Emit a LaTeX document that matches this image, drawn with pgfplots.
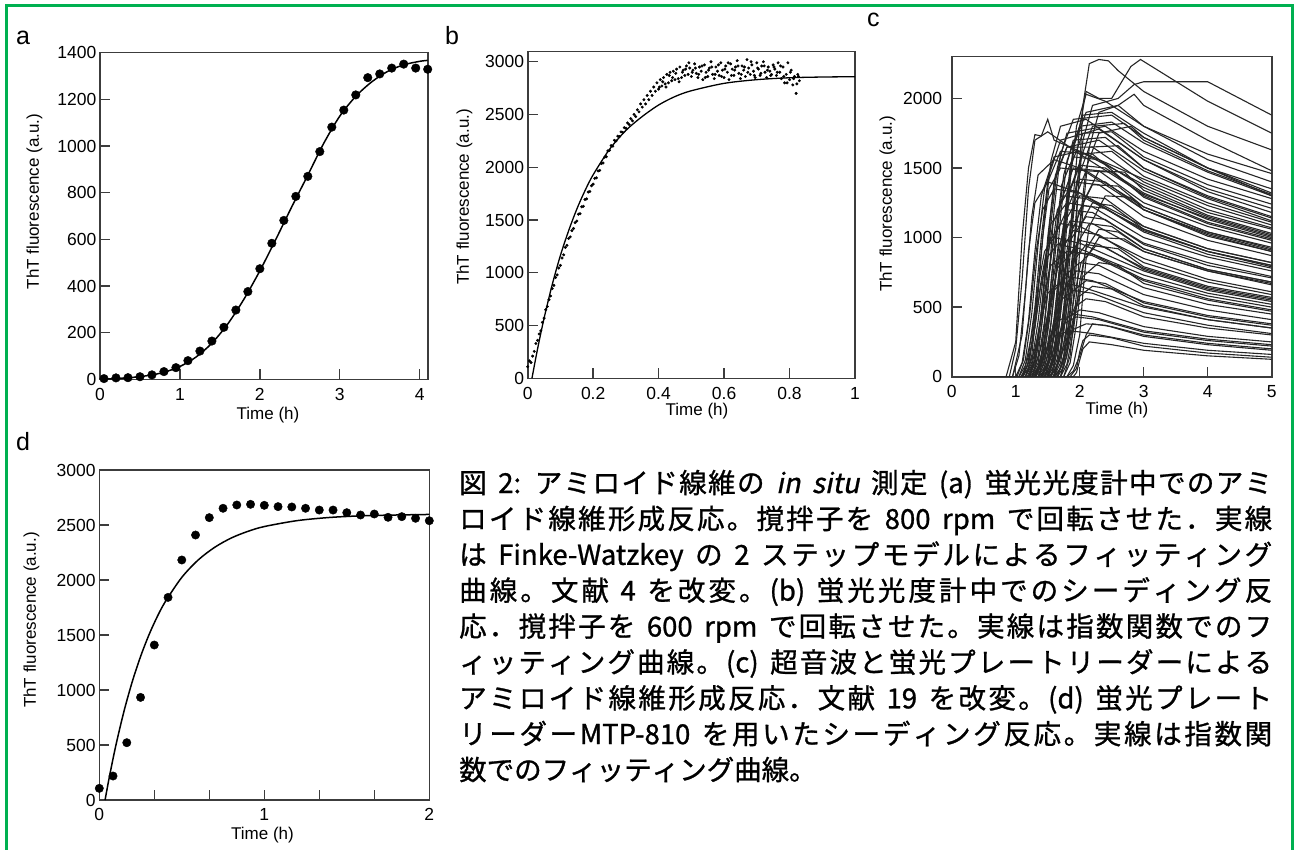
\documentclass[border=0pt]{standalone}
\usepackage{fontspec}
\setmainfont{Liberation Sans}
\newfontfamily\jp{Noto Sans CJK JP}[FakeBold=1]
\newfontfamily\jpit{Noto Sans CJK JP}[FakeBold=1,FakeSlant=0.2]
\usepackage{pgfplots}
\pgfplotsset{compat=1.18}
\definecolor{framecol}{HTML}{3C3C3C}
\definecolor{bordergreen}{RGB}{0,176,80}
\newcommand\tickfont{\fontsize{17.5}{20}\selectfont}
\newcommand\labfont{\fontsize{17}{20}\selectfont}
\newcommand\letfont{\fontsize{25}{28}\selectfont}
% justification glue between Japanese characters (caption only)
\newXeTeXintercharclass\jpcls
\newcount\jpc
\jpc="3000 \loop \XeTeXcharclass\jpc=\jpcls \ifnum\jpc<"30FF \advance\jpc 1 \repeat
\jpc="4E00 \loop \XeTeXcharclass\jpc=\jpcls \ifnum\jpc<"9FFF \advance\jpc 1 \repeat
\jpc="FF01 \loop \XeTeXcharclass\jpc=\jpcls \ifnum\jpc<"FF60 \advance\jpc 1 \repeat
\newcommand\jg{\hskip0pt plus 1fil\relax}
\XeTeXinterchartoks \jpcls \jpcls = {\jg}
\XeTeXinterchartoks 0 \jpcls = {\jg}
\XeTeXinterchartoks \jpcls 0 = {\jg}
\newcommand\capfont{\jp\fontsize{27.5}{30}\selectfont\spaceskip=0.42em\relax
  \XeTeXinterchartokenstate=1\relax}
\pgfplotsset{
  panel/.style={
    scale only axis, anchor=south west,
    axis line style={draw=framecol, line width=1.6pt},
    tick align=inside, xtick pos=bottom, ytick pos=left,
    major tick length=10pt, minor tick length=10pt,
    tick style={draw=framecol, line width=1.4pt},
    ticklabel style={font=\tickfont, inner sep=0pt},
    xticklabel style={yshift=-8.5pt},
    yticklabel style={xshift=-3.5pt},
    /pgf/number format/assume math mode=true,
    /pgf/number format/1000 sep={},
    clip=false,
  },
}
\tikzset{tr/.style={draw=black!85, line width=1.1pt, mark=none}}
\begin{document}
\begin{tikzpicture}
\useasboundingbox (0,0) rectangle (1297pt,-850pt);
\fill[white] (0,0) rectangle (1297pt,-850pt);

% ---------------- panel a
\begin{axis}[panel, at={(100pt,-379.3pt)}, width=327.7pt, height=326.6pt,
  xmin=0, xmax=4.1, ymin=0, ymax=1400,
  xtick={0,1,2,3,4}, ytick={0,200,400,600,800,1000,1200,1400}]
\addplot[black, line width=1.5pt, smooth] coordinates {
 (0,0)(0.2,3)(0.4,8)(0.6,16)(0.8,30)(1.0,55)(1.2,95)(1.4,155)(1.6,238)
 (1.8,343)(2.0,465)(2.2,600)(2.4,740)(2.6,875)(2.8,1012)(3.0,1128)
 (3.2,1213)(3.4,1275)(3.6,1320)(3.8,1348)(4.0,1363)(4.1,1367)};
\addplot[only marks, mark=*, mark size=4.3pt, black] coordinates {
 (0.05,3)(0.2,6)(0.35,7)(0.5,11)(0.65,19)(0.8,33)(0.95,50)(1.1,80)
 (1.25,121)(1.4,164)(1.55,223)(1.7,297)(1.85,376)(2.0,474)(2.15,583)
 (2.3,681)(2.45,784)(2.6,870)(2.75,976)(2.9,1081)(3.05,1154)(3.2,1219)
 (3.35,1293)(3.5,1309)(3.65,1334)(3.8,1351)(3.95,1334)(4.1,1329)};
\end{axis}

% ---------------- panel b
\begin{axis}[panel, at={(527.7pt,-378.3pt)}, width=327.3pt, height=326.6pt,
  xmin=0, xmax=1, ymin=0, ymax=3095,
  xtick={0,0.2,0.4,0.6,0.8,1}, ytick={0,500,1000,1500,2000,2500,3000}]
\addplot[black, line width=1.3pt, smooth] coordinates {
 (0.013,0)(0.03,277)(0.05,569)(0.075,889)(0.1,1165)(0.125,1398)(0.15,1603)
 (0.175,1778)(0.2,1929)(0.25,2170)(0.3,2349)(0.35,2481)(0.4,2590)(0.45,2670)
 (0.5,2725)(0.6,2795)(0.7,2830)(0.8,2848)(0.9,2855)(1.0,2858)};
\addplot[only marks, mark=*, mark size=1.3pt, black] coordinates {
 (0,110)(0.005,165)(0.01,150)(0.015,210)(0.02,255)(0.025,330)(0.03,360)
 (0.035,420)(0.04,450)(0.045,530)(0.05,570)(0.055,650)(0.06,680)(0.065,745)
 (0.07,780)(0.075,850)(0.08,880)(0.085,955)(0.09,980)(0.095,1045)(0.1,1070)
 (0.105,1140)(0.11,1170)(0.115,1240)(0.12,1260)(0.125,1325)(0.13,1340)
 (0.135,1400)(0.14,1420)(0.145,1475)(0.15,1490)(0.155,1555)(0.16,1560)
 (0.165,1625)(0.17,1630)(0.175,1695)(0.18,1700)(0.185,1765)(0.19,1770)
 (0.195,1825)(0.2,1840)(0.205,1895)(0.21,1900)(0.215,1965)(0.22,1970)
 (0.225,2035)(0.23,2040)(0.235,2095)(0.24,2100)(0.245,2155)(0.25,2160)
 (0.255,2205)(0.26,2200)(0.265,2255)(0.27,2250)(0.275,2295)(0.28,2290)
 (0.285,2335)(0.29,2330)(0.295,2375)(0.3,2370)(0.305,2420)(0.31,2405)
 (0.315,2460)(0.32,2440)(0.325,2500)(0.33,2480)(0.335,2545)(0.34,2525)
 (0.345,2600)(0.35,2570)(0.355,2640)(0.36,2600)(0.365,2680)(0.37,2640)
 (0.375,2720)(0.38,2680)(0.385,2760)(0.39,2720)(0.395,2800)(0.4,2740)
 (0.405,2830)(0.41,2770)(0.415,2850)(0.42,2790)(0.425,2880)(0.43,2800)
 (0.435,2900)(0.44,2820)(0.445,2910)(0.45,2830)(0.455,2930)(0.46,2840)
 (0.465,2950)(0.47,2850)(0.475,2920)(0.48,2870)
 (0.485,2960)(0.49,2880)(0.495,2940)(0.5,2860)(0.505,2920)(0.51,2980)
 (0.515,2890)(0.52,2850)(0.525,2950)(0.53,2910)(0.535,2830)(0.54,2970)
 (0.545,2900)(0.55,2860)(0.555,2940)(0.56,3000)(0.565,2880)(0.57,2840)
 (0.575,2950)(0.58,2910)(0.585,2870)(0.59,2990)(0.595,2920)(0.6,2850)
 (0.605,2960)(0.61,2900)(0.615,2830)(0.62,2980)(0.625,2930)(0.63,2870)
 (0.635,2950)(0.64,3010)(0.645,2890)(0.65,2840)(0.655,2960)(0.66,2920)
 (0.665,2860)(0.67,3020)(0.675,2940)(0.68,2880)(0.685,2970)(0.69,2910)
 (0.695,2850)(0.7,2990)(0.705,2930)(0.71,2870)(0.715,2960)(0.72,3000)
 (0.725,2900)(0.73,2850)(0.735,2950)(0.74,2910)(0.745,2880)(0.75,2970)
 (0.755,2930)(0.76,2870)(0.765,2990)(0.77,2900)(0.775,2840)(0.78,2950)
 (0.785,2800)(0.79,2880)(0.795,2990)(0.8,2830)(0.805,2920)(0.81,2780)
 (0.815,2860)(0.82,2700)(0.825,2880)(0.83,2820)
 (0.4025,2760)(0.4125,2810)(0.4225,2760)(0.4325,2870)(0.4425,2850)
 (0.4525,2890)(0.4625,2810)(0.4725,2900)(0.4825,2930)(0.4925,2990)
 (0.5025,2900)(0.5125,2940)(0.5225,2880)(0.5325,2960)(0.5425,2850)
 (0.5525,2920)(0.5625,2950)(0.5725,2880)(0.5825,2970)(0.5925,2860)
 (0.6025,2930)(0.6125,2990)(0.6225,2870)(0.6325,2920)(0.6425,2960)
 (0.6525,2880)(0.6625,2950)(0.6725,2900)(0.6825,3000)(0.6925,2870)
 (0.7025,2940)(0.7125,2890)(0.7225,2960)(0.7325,2920)(0.7425,2870)
 (0.7525,2950)(0.7625,2900)(0.7725,2960)(0.7825,2860)(0.7925,2800)
 (0.8025,2900)(0.8125,2840)(0.8225,2790)(0.8275,2860)};
\end{axis}

% ---------------- panel c
\begin{axis}[panel, at={(951.7pt,-376.7pt)}, width=320pt, height=320pt,
  xmin=0, xmax=5, ymin=0, ymax=2300, clip=true,
  xtick={0,1,2,3,4,5}, ytick={0,500,1000,1500,2000},
  yticklabel style={xshift=-6pt}]
\addplot[tr] coordinates {(0.3,0)(0.85,0)(1.0,250)(1.1,1000)(1.2,1500)(1.3,1740)(1.4,1730)(1.5,1850)(1.6,1700)(2,1620)(3,1420)(4,1230)(5,1090)};
\addplot[tr] coordinates {(0.3,0)(0.9,0)(1.0,200)(1.1,700)(1.2,1350)(1.3,1700)(1.5,1760)(2,1600)(3,1310)(4,1140)(5,1010)};
\addplot[tr] coordinates {(0.3,0)(0.95,0)(1.05,150)(1.15,600)(1.25,1150)(1.35,1450)(1.6,1560)(2,1500)(3,1200)(4,1010)(5,900)};
\addplot[tr] coordinates {(0.3,0)(0.95,0)(1.1,300)(1.2,900)(1.3,1250)(1.5,1400)(2,1320)(3,1050)(4,900)(5,800)};
\addplot[tr] coordinates {(0.3,0)(1.0,0)(1.1,100)(1.2,400)(1.3,900)(1.4,1300)(1.6,1580)(2,1620)(3,1380)(4,1180)(5,1060)};
\addplot[tr] coordinates {(0.3,0)(1.05,0)(1.15,120)(1.25,450)(1.35,950)(1.45,1350)(1.7,1700)(2.3,1780)(3,1560)(4,1350)(5,1210)};
\addplot[tr] coordinates {(0.3,0)(1.05,0)(1.15,80)(1.25,300)(1.35,650)(1.45,900)(1.6,1000)(2,960)(3,760)(4,620)(5,540)};
\addplot[tr] coordinates {(0.3,0)(1.1,0)(1.2,150)(1.3,500)(1.4,1000)(1.5,1400)(1.7,1620)(2.2,1600)(3,1290)(4,1100)(5,980)};
\addplot[tr] coordinates {(0.3,0)(1.1,0)(1.2,100)(1.3,350)(1.4,700)(1.5,950)(1.7,1100)(2,1080)(3,850)(4,700)(5,610)};
\addplot[tr] coordinates {(0.3,0)(1.1,0)(1.2,60)(1.3,200)(1.4,420)(1.5,600)(1.7,680)(2,650)(3,500)(4,410)(5,350)};
\addplot[tr] coordinates {(0.3,0)(1.15,0)(1.25,150)(1.35,600)(1.45,1150)(1.55,1550)(1.7,1800)(2.1,1850)(3,1560)(4,1330)(5,1180)};
\addplot[tr] coordinates {(0.3,0)(1.15,0)(1.25,100)(1.35,400)(1.45,800)(1.55,1100)(1.8,1250)(2.2,1220)(3,1000)(4,860)(5,760)};
\addplot[tr] coordinates {(0.3,0)(1.15,0)(1.25,80)(1.35,280)(1.45,600)(1.55,800)(1.8,900)(2.2,880)(3,700)(4,580)(5,500)};
\addplot[tr] coordinates {(0.3,0)(1.2,0)(1.3,120)(1.4,450)(1.5,1000)(1.6,1400)(1.8,1650)(2.3,1700)(3,1480)(4,1280)(5,1120)};
\addplot[tr] coordinates {(0.3,0)(1.2,0)(1.3,90)(1.4,350)(1.5,700)(1.6,1000)(1.8,1200)(2.2,1180)(3,960)(4,820)(5,720)};
\addplot[tr] coordinates {(0.3,0)(1.2,0)(1.3,60)(1.4,220)(1.5,450)(1.6,620)(1.8,720)(2.2,690)(3,540)(4,440)(5,380)};
\addplot[tr] coordinates {(0.3,0)(1.25,0)(1.35,150)(1.45,550)(1.55,1100)(1.65,1500)(1.8,1750)(2.4,1800)(3,1620)(4,1420)(5,1280)};
\addplot[tr] coordinates {(0.3,0)(1.25,0)(1.35,100)(1.45,400)(1.55,850)(1.65,1200)(1.9,1400)(2.3,1380)(3,1150)(4,980)(5,870)};
\addplot[tr] coordinates {(0.3,0)(1.25,0)(1.35,70)(1.45,260)(1.55,550)(1.65,780)(1.9,900)(2.2,870)(3,690)(4,560)(5,480)};
\addplot[tr] coordinates {(0.3,0)(1.25,0)(1.35,40)(1.45,150)(1.55,300)(1.65,400)(1.9,450)(2.2,430)(3,330)(4,270)(5,230)};
\addplot[tr] coordinates {(0.3,0)(1.3,0)(1.4,150)(1.5,600)(1.6,1200)(1.7,1600)(1.9,1850)(2.5,1880)(3,1720)(4,1500)(5,1350)};
\addplot[tr] coordinates {(0.3,0)(1.3,0)(1.4,120)(1.5,450)(1.6,900)(1.7,1250)(1.9,1500)(2.3,1480)(3,1250)(4,1080)(5,960)};
\addplot[tr] coordinates {(0.3,0)(1.3,0)(1.4,80)(1.5,320)(1.6,650)(1.7,900)(1.9,1050)(2.3,1020)(3,820)(4,680)(5,590)};
\addplot[tr] coordinates {(0.3,0)(1.3,0)(1.4,50)(1.5,200)(1.6,400)(1.7,550)(1.9,620)(2.2,600)(3,460)(4,370)(5,310)};
\addplot[tr] coordinates {(0.3,0)(1.35,0)(1.45,150)(1.55,550)(1.65,1050)(1.75,1450)(1.9,1700)(2.4,1720)(3,1500)(4,1300)(5,1150)};
\addplot[tr] coordinates {(0.3,0)(1.35,0)(1.45,100)(1.55,380)(1.65,800)(1.75,1100)(2,1300)(2.4,1280)(3,1080)(4,920)(5,820)};
\addplot[tr] coordinates {(0.3,0)(1.35,0)(1.45,70)(1.55,260)(1.65,520)(1.75,720)(2,820)(2.3,800)(3,640)(4,520)(5,450)};
\addplot[tr] coordinates {(0.3,0)(1.4,0)(1.5,150)(1.6,600)(1.7,1150)(1.8,1550)(2,1800)(2.5,1830)(3,1680)(4,1470)(5,1300)};
\addplot[tr] coordinates {(0.3,0)(1.4,0)(1.5,110)(1.6,420)(1.7,850)(1.8,1200)(2,1420)(2.4,1400)(3,1200)(4,1030)(5,910)};
\addplot[tr] coordinates {(0.3,0)(1.4,0)(1.5,80)(1.6,300)(1.7,620)(1.8,850)(2,980)(2.3,950)(3,780)(4,640)(5,560)};
\addplot[tr] coordinates {(0.3,0)(1.4,0)(1.5,40)(1.6,160)(1.7,320)(1.8,420)(2,480)(2.3,460)(3,360)(4,290)(5,250)};
\addplot[tr] coordinates {(0.3,0)(1.45,0)(1.55,140)(1.65,520)(1.75,1000)(1.85,1350)(2.05,1600)(2.5,1620)(3,1440)(4,1250)(5,1110)};
\addplot[tr] coordinates {(0.3,0)(1.45,0)(1.55,90)(1.65,350)(1.75,700)(1.85,980)(2.1,1150)(2.4,1130)(3,950)(4,800)(5,710)};
\addplot[tr] coordinates {(0.3,0)(1.45,0)(1.55,60)(1.65,220)(1.75,440)(1.85,600)(2.1,690)(2.4,670)(3,530)(4,430)(5,370)};
\addplot[tr] coordinates {(0.3,0)(1.5,0)(1.6,150)(1.7,600)(1.8,1200)(1.9,1650)(2.1,1900)(2.6,1950)(3,1800)(4,1560)(5,1400)};
\addplot[tr] coordinates {(0.3,0)(1.5,0)(1.6,120)(1.7,450)(1.8,900)(1.9,1250)(2.1,1480)(2.5,1470)(3,1300)(4,1110)(5,990)};
\addplot[tr] coordinates {(0.3,0)(1.5,0)(1.6,80)(1.7,300)(1.8,600)(1.9,830)(2.1,950)(2.4,930)(3,770)(4,630)(5,550)};
\addplot[tr] coordinates {(0.3,0)(1.5,0)(1.6,40)(1.7,140)(1.8,260)(1.9,340)(2.1,380)(2.4,370)(3,290)(4,230)(5,190)};
\addplot[tr] coordinates {(0.3,0)(1.55,0)(1.65,130)(1.75,500)(1.85,1000)(1.95,1400)(2.15,1650)(2.6,1660)(3,1500)(4,1290)(5,1140)};
\addplot[tr] coordinates {(0.3,0)(1.55,0)(1.65,90)(1.75,330)(1.85,680)(1.95,950)(2.15,1100)(2.5,1080)(3,920)(4,770)(5,680)};
\addplot[tr] coordinates {(0.3,0)(1.6,0)(1.7,150)(1.8,600)(1.9,1150)(2,1550)(2.2,1800)(2.7,1820)(3,1700)(4,1480)(5,1310)};
\addplot[tr] coordinates {(0.3,0)(1.6,0)(1.7,100)(1.8,380)(1.9,780)(2,1080)(2.2,1250)(2.5,1230)(3,1060)(4,900)(5,800)};
\addplot[tr] coordinates {(0.3,0)(1.6,0)(1.7,60)(1.8,200)(1.9,420)(2,580)(2.2,650)(2.5,630)(3,510)(4,410)(5,350)};
\addplot[tr] coordinates {(0.3,0)(1.65,0)(1.75,120)(1.85,450)(1.95,900)(2.05,1250)(2.3,1480)(2.7,1470)(3,1340)(4,1150)(5,1020)};
\addplot[tr] coordinates {(0.3,0)(1.65,0)(1.75,70)(1.85,260)(1.95,520)(2.05,720)(2.3,820)(2.6,800)(3,670)(4,550)(5,470)};
\addplot[tr] coordinates {(0.3,0)(1.7,0)(1.8,150)(1.9,550)(2,1100)(2.1,1500)(2.3,1750)(2.8,1800)(3,1720)(4,1500)(5,1320)};
\addplot[tr] coordinates {(0.3,0)(1.7,0)(1.8,90)(1.9,330)(2,680)(2.1,920)(2.3,1060)(2.6,1040)(3,920)(4,770)(5,680)};
\addplot[tr] coordinates {(0.3,0)(1.75,0)(1.85,100)(1.95,380)(2.05,780)(2.15,1080)(2.4,1300)(2.8,1290)(3,1200)(4,1020)(5,900)};
\addplot[tr] coordinates {(0.3,0)(1.8,0)(1.9,80)(2,300)(2.05,600)(2.1,850)(2.3,1000)(2.7,990)(3,900)(4,760)(5,660)};
\addplot[tr] coordinates {(0.3,0)(1.85,0)(1.95,60)(2.0,180)(2.05,260)(2.15,300)(2.5,280)(3,220)(4,170)(5,140)};
\addplot[tr] coordinates {(0.3,0)(1.9,0)(1.95,30)(2.0,120)(2.05,200)(2.15,250)(2.5,230)(3,190)(4,150)(5,125)};
\addplot[tr] coordinates {(0.3,0)(1.8,0)(1.9,40)(2.0,150)(2.1,300)(2.2,380)(2.5,360)(3,300)(4,240)(5,200)};
\addplot[tr] coordinates {(0.3,0)(1.6,0)(1.7,200)(1.8,700)(1.9,1300)(2.0,1800)(2.1,2050)(2.3,2000)(2.5,2000)(2.8,2230)(2.95,2280)(4,1980)(5,1750)};
\addplot[tr] coordinates {(0.3,0)(1.65,0)(1.75,150)(1.85,600)(1.95,1200)(2.05,1700)(2.2,1950)(2.6,2000)(2.85,2100)(3,2120)(4,2120)(5,1880)};
\addplot[tr] coordinates {(0.3,0)(1.7,0)(1.8,200)(1.9,800)(2.0,1500)(2.05,1950)(2.15,2250)(2.3,2280)(2.45,2270)(2.6,2200)(3,2050)(4,1800)(5,1630)};
\addplot[tr] coordinates {(0.3,0)(1.75,0)(1.85,150)(1.95,600)(2.05,1200)(2.15,1650)(2.3,1900)(2.6,1950)(2.85,2030)(3,1950)(4,1700)(5,1480)};
\addplot[tr] coordinates {(0.3,0)(1.55,0)(1.65,200)(1.75,800)(1.85,1400)(1.95,1800)(2.1,2030)(2.4,1980)(3,1800)(4,1600)(5,1460)};
\addplot[tr] coordinates {(0.3,0)(1.5,0)(1.6,150)(1.7,650)(1.8,1250)(1.9,1650)(2.05,1880)(2.5,1900)(3,1750)(4,1500)(5,1300)};
\addplot[tr] coordinates {(0.3,0)(1.12,0)(1.22,130)(1.32,500)(1.42,1000)(1.52,1350)(1.7,1500)(2.1,1480)(3,1220)(4,1040)(5,930)};
\addplot[tr] coordinates {(0.3,0)(1.18,0)(1.28,100)(1.38,400)(1.48,800)(1.58,1100)(1.75,1300)(2.1,1280)(3,1060)(4,900)(5,790)};
\addplot[tr] coordinates {(0.3,0)(1.22,0)(1.32,140)(1.42,520)(1.52,1050)(1.62,1450)(1.8,1650)(2.2,1650)(3,1400)(4,1200)(5,1070)};
\addplot[tr] coordinates {(0.3,0)(1.28,0)(1.38,90)(1.48,330)(1.58,680)(1.68,950)(1.85,1120)(2.2,1100)(3,900)(4,760)(5,670)};
\addplot[tr] coordinates {(0.3,0)(1.32,0)(1.42,130)(1.52,500)(1.62,1000)(1.72,1380)(1.9,1580)(2.3,1560)(3,1360)(4,1160)(5,1030)};
\addplot[tr] coordinates {(0.3,0)(1.38,0)(1.48,60)(1.58,240)(1.68,480)(1.78,660)(1.95,760)(2.3,740)(3,590)(4,480)(5,410)};
\addplot[tr] coordinates {(0.3,0)(1.42,0)(1.52,130)(1.62,480)(1.72,950)(1.82,1300)(2,1520)(2.4,1500)(3,1320)(4,1130)(5,1000)};
\addplot[tr] coordinates {(0.3,0)(1.48,0)(1.58,100)(1.68,380)(1.78,760)(1.88,1050)(2.05,1230)(2.4,1210)(3,1040)(4,880)(5,780)};
\addplot[tr] coordinates {(0.3,0)(1.52,0)(1.62,50)(1.72,180)(1.82,360)(1.92,500)(2.1,560)(2.4,540)(3,430)(4,350)(5,300)};
\addplot[tr] coordinates {(0.3,0)(1.58,0)(1.68,110)(1.78,420)(1.88,850)(1.98,1180)(2.2,1380)(2.6,1370)(3,1220)(4,1040)(5,920)};
\addplot[tr] coordinates {(0.3,0)(1.62,0)(1.72,80)(1.82,290)(1.92,590)(2.02,820)(2.25,940)(2.6,920)(3,790)(4,650)(5,570)};
\addplot[tr] coordinates {(0.3,0)(1.08,0)(1.18,80)(1.28,300)(1.38,620)(1.48,850)(1.65,950)(2,920)(3,730)(4,600)(5,520)};
\addplot[tr] coordinates {(0.3,0)(1.02,0)(1.12,120)(1.22,450)(1.32,900)(1.42,1200)(1.6,1350)(2,1320)(3,1080)(4,920)(5,820)};
\addplot[tr] coordinates {(0.3,0)(1.35,0)(1.45,40)(1.55,140)(1.65,280)(1.75,380)(1.95,430)(2.3,410)(3,320)(4,260)(5,220)};
\addplot[tr] coordinates {(0.3,0)(1.45,0)(1.55,140)(1.65,550)(1.75,1100)(1.85,1500)(2.05,1750)(2.5,1760)(3,1580)(4,1380)(5,1240)};
\addplot[tr] coordinates {(0.3,0)(1.2,0)(1.3,30)(1.4,110)(1.5,220)(1.6,290)(1.85,330)(2.2,310)(3,240)(4,190)(5,160)};
\end{axis}

% ---------------- panel d
\begin{axis}[panel, at={(99.3pt,-800pt)}, width=330pt, height=330pt,
  xmin=0, xmax=2, ymin=0, ymax=3000,
  xtick={0,1,2}, minor xtick={0.3333,0.6667,1.3333,1.6667},
  ytick={0,500,1000,1500,2000,2500,3000}]
\addplot[black, line width=1.5pt, smooth] coordinates {
 (0.035,0)(0.06,202)(0.1,494)(0.15,809)(0.2,1077)(0.25,1304)(0.3,1498)
 (0.35,1663)(0.4,1803)(0.5,2024)(0.6,2183)(0.7,2298)(0.8,2382)(0.9,2442)
 (1.0,2486)(1.2,2540)(1.4,2569)(1.6,2584)(1.8,2591)(2.0,2596)};
\addplot[only marks, mark=*, mark size=4.2pt, black] coordinates {
 (0,106)(0.0833,218)(0.1667,521)(0.25,933)(0.3333,1409)(0.4167,1842)
 (0.5,2182)(0.5833,2409)(0.6667,2567)(0.75,2652)(0.8333,2682)(0.9167,2688)
 (1.0,2679)(1.0833,2667)(1.1667,2664)(1.25,2652)(1.3333,2636)(1.4167,2636)
 (1.5,2612)(1.5833,2591)(1.6667,2600)(1.75,2570)(1.8333,2576)(1.9167,2561)
 (2.0,2539)};
\end{axis}

% ---------------- labels
\node[anchor=base west, inner sep=0, font=\letfont] at (16pt,-45pt) {a};
\node[anchor=base west, inner sep=0, font=\letfont] at (445pt,-45pt) {b};
\node[anchor=base west, inner sep=0, font=\letfont] at (867pt,-27pt) {c};
\node[anchor=base west, inner sep=0, font=\letfont] at (16pt,-450pt) {d};
\foreach \x/\y in {34.5/201.5, 464.5/197, 887.5/204, 31.5/620}
  \node[rotate=90, inner sep=0, font=\labfont] at (\x pt,-\y pt) {ThT fluorescence (a.u.)};
\foreach \x/\y in {268/419, 697/415, 1117/414, 262.5/839}
  \node[anchor=base, inner sep=0, font=\labfont] at (\x pt,-\y pt) {Time (h)};

% ---------------- caption
\begin{scope}[every node/.style={anchor=base west, inner sep=0, font=\capfont}]
\node at (459pt,-493pt) {\makebox[813pt][s]{図 2: アミロイド線維の {\jpit in situ} 測定 (a) 蛍光光度計中でのアミ}};
\node at (459pt,-528.9pt) {\makebox[813pt][s]{ロイド線維形成反応。撹拌子を 800 rpm で回転させた．実線}};
\node at (459pt,-564.8pt) {\makebox[813pt][s]{は Finke-Watzkey の 2 ステップモデルによるフィッティング}};
\node at (459pt,-600.6pt) {\makebox[813pt][s]{曲線。文献 4 を改変。(b) 蛍光光度計中でのシーディング反}};
\node at (459pt,-636.5pt) {\makebox[813pt][s]{応．撹拌子を 600 rpm で回転させた。実線は指数関数でのフ}};
\node at (459pt,-672.4pt) {\makebox[813pt][s]{ィッティング曲線。(c) 超音波と蛍光プレートリーダーによる}};
\node at (459pt,-708.3pt) {\makebox[813pt][s]{アミロイド線維形成反応．文献 19 を改変。(d) 蛍光プレート}};
\node at (459pt,-744.1pt) {\makebox[813pt][s]{リーダーMTP-810 を用いたシーディング反応。実線は指数関}};
\node at (459pt,-780pt) {数でのフィッティング曲線。};
\end{scope}

% ---------------- green frame
\draw[bordergreen, line width=3pt] (6.5pt,-850pt) -- (6.5pt,-5.5pt) -- (1292pt,-5.5pt) -- (1292pt,-850pt);
\end{tikzpicture}
\end{document}
